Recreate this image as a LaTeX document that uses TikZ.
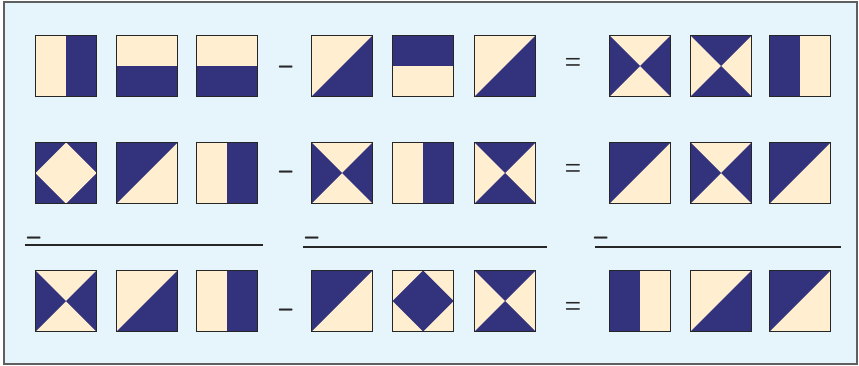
\documentclass[tikz,border=0pt]{standalone}
\usepackage{graphicx}
\usepackage{tikz}
\definecolor{navy}{RGB}{51,51,125}
\definecolor{cream}{RGB}{255,239,208}
\definecolor{panel}{RGB}{230,244,252}
\definecolor{framegray}{RGB}{95,95,95}
\newcommand{\hs}{30.5}
\newcommand{\tileedge}{\draw[tile] (-\hs,-\hs) rectangle (\hs,\hs);}
\newcommand{\tilebase}[1]{\fill[#1] (-\hs,-\hs) rectangle (\hs,\hs);}
\newcommand{\minussign}{\scalebox{1.15}[2.0]{\boldmath$-$}}
\newcommand{\equalsign}{\scalebox{1.1}[1.7]{\boldmath$=$}}

\begin{document}
\begin{tikzpicture}[
  x=0.03cm, y=-0.03cm,
  tile/.style={draw=black!85, line width=0.7pt},
  op/.style={font=\Large, inner sep=0pt, text=black!85},
  bar/.style={draw=black!85, line width=1.6pt},
  navyright/.pic={\tilebase{cream} \fill[navy] (0,-\hs) rectangle (\hs,\hs); \tileedge},
  navyleft/.pic={\tilebase{cream} \fill[navy] (-\hs,-\hs) rectangle (0,\hs); \tileedge},
  navybottom/.pic={\tilebase{cream} \fill[navy] (-\hs,0) rectangle (\hs,\hs); \tileedge},
  navytop/.pic={\tilebase{cream} \fill[navy] (-\hs,-\hs) rectangle (\hs,0); \tileedge},
  diaglow/.pic={\tilebase{cream} \fill[navy] (-\hs,\hs) -- (\hs,-\hs) -- (\hs,\hs) -- cycle; \tileedge},
  diaghigh/.pic={\tilebase{cream} \fill[navy] (-\hs,\hs) -- (\hs,-\hs) -- (-\hs,-\hs) -- cycle; \tileedge},
  sides/.pic={\tilebase{cream} \fill[navy] (-\hs,-\hs) -- (0,0) -- (-\hs,\hs) -- cycle (\hs,-\hs) -- (0,0) -- (\hs,\hs) -- cycle; \tileedge},
  ends/.pic={\tilebase{cream} \fill[navy] (-\hs,-\hs) -- (0,0) -- (\hs,-\hs) -- cycle (-\hs,\hs) -- (0,0) -- (\hs,\hs) -- cycle; \tileedge},
  gem/.pic={\tilebase{navy} \fill[cream] (0,-\hs) -- (\hs,0) -- (0,\hs) -- (-\hs,0) -- cycle; \tileedge},
  jewel/.pic={\tilebase{cream} \fill[navy] (0,-\hs) -- (\hs,0) -- (0,\hs) -- (-\hs,0) -- cycle; \tileedge}
]
  \useasboundingbox (0,0) rectangle (859,366);
  \draw[fill=panel, draw=framegray, line width=1.2pt] (4,2) rectangle (857,364);

  \pic (a11) at (66,66)  {navyright};
  \pic (a12) at (147,66) {navybottom};
  \pic (a13) at (227,66) {navybottom};
  \node[op] (m1) at (286,67) {\minussign};
  \pic (b11) at (342,66) {diaglow};
  \pic (b12) at (423,66) {navytop};
  \pic (b13) at (505,66) {diaglow};
  \node[op] (e1) at (573,64) {\equalsign};
  \pic (c11) at (640,66) {sides};
  \pic (c12) at (721,66) {ends};
  \pic (c13) at (800,66) {navyleft};

  \pic (a21) at (66,173)  {gem};
  \pic (a22) at (147,173) {diaghigh};
  \pic (a23) at (227,173) {navyright};
  \node[op] (m2) at (286,172) {\minussign};
  \pic (b21) at (342,173) {sides};
  \pic (b22) at (423,173) {navyright};
  \pic (b23) at (505,173) {ends};
  \node[op] (e2) at (573,170) {\equalsign};
  \pic (c21) at (640,173) {diaghigh};
  \pic (c22) at (721,173) {sides};
  \pic (c23) at (800,173) {diaghigh};

  \node[op] (s1) at (34,238)  {\minussign};
  \node[op] (s2) at (312,238) {\minussign};
  \node[op] (s3) at (601,238) {\minussign};
  \draw[bar] (25,245)  -- (263,245);
  \draw[bar] (303,247) -- (547,247);
  \draw[bar] (595,247) -- (841,247);

  \pic (a31) at (66,301)  {sides};
  \pic (a32) at (147,301) {diaglow};
  \pic (a33) at (227,301) {navyright};
  \node[op] (m3) at (286,310) {\minussign};
  \pic (b31) at (342,301) {diaghigh};
  \pic (b32) at (423,301) {jewel};
  \pic (b33) at (505,301) {ends};
  \node[op] (e3) at (573,308) {\equalsign};
  \pic (c31) at (640,301) {navyleft};
  \pic (c32) at (721,301) {diaglow};
  \pic (c33) at (800,301) {diaghigh};
\end{tikzpicture}
\end{document}
